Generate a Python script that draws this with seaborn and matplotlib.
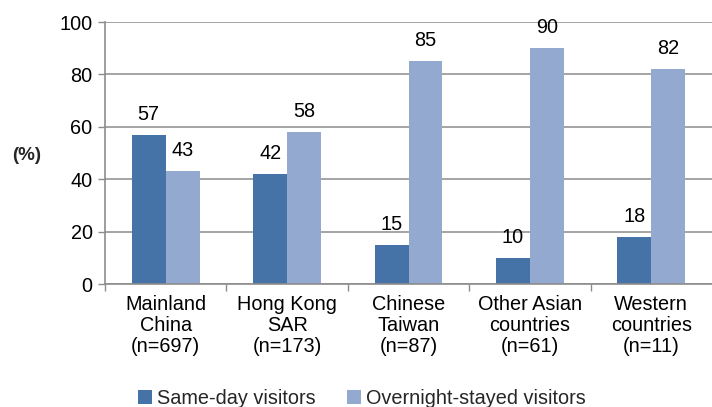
import matplotlib
matplotlib.use("Agg")
import matplotlib.pyplot as plt
from matplotlib.patches import Patch
import seaborn as sns
import pandas as pd

categories = ["Mainland\nChina\n(n=697)", "Hong Kong\nSAR\n(n=173)", "Chinese\nTaiwan\n(n=87)",
              "Other Asian\ncountries\n(n=61)", "Western\ncountries\n(n=11)"]
same_day = [57, 42, 15, 10, 18]
overnight = [43, 58, 85, 90, 82]
series = ["Same-day visitors", "Overnight-stayed visitors"]
colors = ["#4572A7", "#93A9CF"]

df = pd.DataFrame({
    "region": categories * 2,
    "visitor": [series[0]] * len(categories) + [series[1]] * len(categories),
    "pct": same_day + overnight,
})

sns.set_theme(style="white")
plt.rcParams["font.family"] = ["Liberation Sans", "DejaVu Sans"]

FS = 14.3

fig = plt.figure(figsize=(7.12, 4.07), dpi=100)
ax = fig.add_axes([105 / 712, 1 - 284 / 407, 1 - 105 / 712, (284 - 22) / 407])

sns.barplot(data=df, x="region", y="pct", hue="visitor", order=categories, hue_order=series,
            palette=colors, width=0.56, saturation=1, ax=ax, legend=False)

for patch in ax.patches:
    patch.set_linewidth(0)

for container in ax.containers:
    ax.bar_label(container, fmt="%d", padding=8, fontsize=FS, color="black")

ax.set_ylim(0, 100)
ax.set_xlim(-0.5, len(categories) - 0.5)
ax.set_yticks(range(0, 101, 20))
ax.yaxis.grid(True, color="#8c8c8c", linewidth=1.1)
ax.set_axisbelow(True)
ax.set_xlabel("")
ax.set_ylabel("")

ax.tick_params(axis="y", left=True, length=5, width=1, color="#8c8c8c", labelsize=FS, pad=4, labelcolor="black")
ax.tick_params(axis="x", which="major", bottom=False, length=0, labelsize=FS, pad=8, labelcolor="black")
ax.set_xticks([i + 0.5 for i in range(-1, len(categories) - 1)], minor=True)
ax.tick_params(axis="x", which="minor", bottom=True, length=5, width=1, color="#8c8c8c")
for lbl in ax.get_xticklabels():
    lbl.set_linespacing(1.14)

for side in ["top", "right"]:
    ax.spines[side].set_visible(False)
for side in ["left", "bottom"]:
    ax.spines[side].set_color("#8c8c8c")
    ax.spines[side].set_linewidth(1.2)

fig.text(27 / 712, 1 - 155 / 407, "(%)", fontsize=13.5, fontweight="bold", ha="center", va="center")

handles = [Patch(facecolor=c, edgecolor="none") for c in colors]
fig.legend(handles, series, loc="center", bbox_to_anchor=(0.508, 0.02), ncol=2, frameon=False,
           fontsize=FS, handlelength=0.7, handleheight=0.7, handletextpad=0.25, columnspacing=1.6)

fig.savefig("out.png", dpi=100)
